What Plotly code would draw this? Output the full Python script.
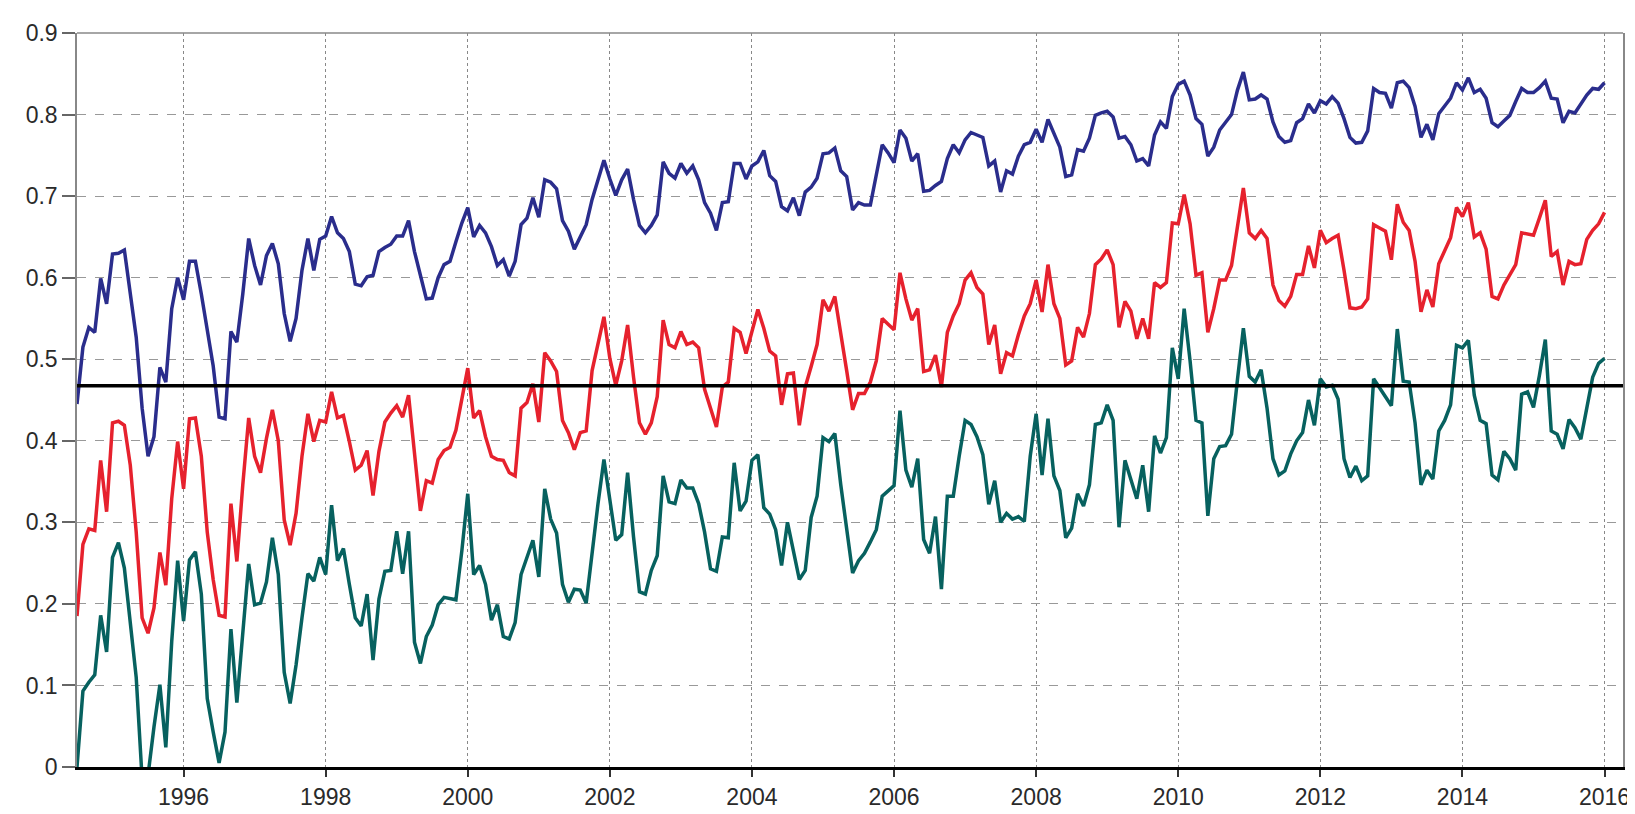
import plotly.graph_objects as go

start_year = 1994.5
months_per_year = 12

blue_series = [
    0.445, 0.515, 0.539, 0.533, 0.599, 0.568, 0.629, 0.630, 0.634, 0.580, 0.527, 0.440, 0.381, 0.405, 0.490, 0.472,
    0.562, 0.600, 0.573, 0.620, 0.620, 0.580, 0.539, 0.492, 0.429, 0.427, 0.534, 0.521, 0.580, 0.648, 0.615, 0.591,
    0.627, 0.642, 0.617, 0.556, 0.522, 0.550, 0.609, 0.648, 0.609, 0.647, 0.651, 0.675, 0.655, 0.648, 0.632, 0.592,
    0.590, 0.601, 0.603, 0.632,
    0.637, 0.641, 0.651, 0.651, 0.670, 0.632, 0.603, 0.574, 0.575, 0.600, 0.616, 0.620, 0.644, 0.667, 0.686, 0.650,
    0.664, 0.655, 0.638, 0.615, 0.622, 0.602, 0.620, 0.665, 0.673, 0.698, 0.674, 0.720, 0.717, 0.709, 0.670, 0.657,
    0.635, 0.650, 0.665, 0.696, 0.720, 0.744, 0.721, 0.701, 0.720, 0.733, 0.696, 0.664, 0.655, 0.664, 0.677, 0.742,
    0.728, 0.722, 0.740, 0.728,
    0.737, 0.720, 0.692, 0.679, 0.658, 0.692, 0.693, 0.740, 0.740, 0.721, 0.737, 0.742, 0.756, 0.725, 0.718, 0.687,
    0.682, 0.698, 0.676, 0.705, 0.711, 0.722, 0.752, 0.753, 0.759, 0.731, 0.724, 0.683, 0.692, 0.689, 0.689, 0.728,
    0.763, 0.753, 0.741, 0.781, 0.771, 0.743, 0.752, 0.706, 0.707, 0.713, 0.718, 0.746, 0.763, 0.753, 0.769, 0.778,
    0.775, 0.772, 0.737, 0.743,
    0.705, 0.731, 0.727, 0.749, 0.763, 0.766, 0.782, 0.766, 0.794, 0.778, 0.760, 0.724, 0.726, 0.757, 0.755, 0.771,
    0.799, 0.802, 0.804, 0.797, 0.771, 0.773, 0.763, 0.743, 0.746, 0.737, 0.775, 0.791, 0.783, 0.822, 0.837, 0.841,
    0.824, 0.795, 0.788, 0.749, 0.760, 0.781, 0.790, 0.800, 0.830, 0.852, 0.818, 0.819, 0.824, 0.819, 0.791, 0.773,
    0.766, 0.768, 0.790,
    0.795, 0.813, 0.802, 0.817, 0.813, 0.822, 0.814, 0.795, 0.772, 0.765, 0.766, 0.780, 0.832, 0.827, 0.826, 0.808,
    0.839, 0.841, 0.833, 0.810, 0.772, 0.788, 0.769, 0.801, 0.810, 0.820, 0.839, 0.830, 0.845, 0.827, 0.831, 0.820,
    0.790, 0.785, 0.792, 0.799, 0.816, 0.832, 0.827, 0.827, 0.833, 0.841, 0.820, 0.819, 0.790, 0.804, 0.802, 0.814,
    0.824, 0.832, 0.831, 0.839,
]

red_series = [
    0.185, 0.273, 0.292, 0.290, 0.376, 0.313, 0.422, 0.424, 0.419, 0.370, 0.288, 0.183, 0.164, 0.195, 0.263, 0.223,
    0.329, 0.399, 0.341, 0.427, 0.428, 0.381, 0.288, 0.230, 0.186, 0.184, 0.323, 0.252, 0.346, 0.428, 0.381, 0.361,
    0.403, 0.438, 0.400, 0.303, 0.272, 0.311, 0.381, 0.433, 0.399, 0.425, 0.423, 0.460, 0.428, 0.431, 0.399, 0.364,
    0.370, 0.388, 0.333, 0.387,
    0.423, 0.434, 0.443, 0.429, 0.456, 0.381, 0.314, 0.351, 0.348, 0.377, 0.388, 0.392, 0.413, 0.451, 0.489, 0.428,
    0.437, 0.405, 0.381, 0.377, 0.376, 0.361, 0.357, 0.440, 0.447, 0.470, 0.423, 0.508, 0.498, 0.485, 0.425, 0.410,
    0.389, 0.410, 0.412, 0.486, 0.517, 0.552, 0.501, 0.468, 0.498, 0.542, 0.478, 0.422, 0.408, 0.422, 0.454, 0.548,
    0.518, 0.514, 0.534, 0.518,
    0.521, 0.514, 0.463, 0.440, 0.417, 0.466, 0.472, 0.538, 0.533, 0.507, 0.536, 0.561, 0.538, 0.510, 0.504, 0.444,
    0.482, 0.483, 0.419, 0.466, 0.491, 0.518, 0.573, 0.559, 0.577, 0.533, 0.486, 0.438, 0.458, 0.458, 0.472, 0.498,
    0.550, 0.543, 0.536, 0.606, 0.574, 0.548, 0.562, 0.485, 0.487, 0.505, 0.466, 0.533, 0.553, 0.568, 0.597, 0.606,
    0.588, 0.580, 0.518, 0.542,
    0.482, 0.508, 0.504, 0.530, 0.553, 0.568, 0.597, 0.558, 0.616, 0.568, 0.550, 0.493, 0.498, 0.539, 0.527, 0.556,
    0.616, 0.623, 0.634, 0.616, 0.539, 0.571, 0.559, 0.525, 0.550, 0.525, 0.594, 0.588, 0.594, 0.667, 0.666, 0.702,
    0.666, 0.603, 0.606, 0.533, 0.562, 0.597, 0.597, 0.615, 0.661, 0.710, 0.655, 0.648, 0.658, 0.648, 0.591, 0.572,
    0.565, 0.577, 0.604,
    0.604, 0.639, 0.612, 0.658, 0.643, 0.648, 0.652, 0.609, 0.563, 0.562, 0.564, 0.574, 0.665, 0.661, 0.657, 0.622,
    0.690, 0.668, 0.658, 0.620, 0.558, 0.585, 0.564, 0.617, 0.632, 0.649, 0.686, 0.675, 0.692, 0.650, 0.655, 0.635,
    0.577, 0.574, 0.591, 0.604, 0.616, 0.655, 0.654, 0.652, 0.673, 0.695, 0.626, 0.632, 0.591, 0.620, 0.616, 0.617,
    0.647, 0.658, 0.666, 0.680,
]

teal_series = [
    0.0, 0.093, 0.104, 0.113, 0.186, 0.141, 0.257, 0.275, 0.244, 0.177, 0.110, -0.015, -0.01, 0.049, 0.101, 0.024,
    0.154, 0.253, 0.179, 0.254, 0.264, 0.212, 0.084, 0.043, 0.005, 0.043, 0.169, 0.079, 0.166, 0.249, 0.199, 0.201,
    0.227, 0.281, 0.236, 0.116, 0.078, 0.125, 0.183, 0.237, 0.228, 0.257, 0.236, 0.321, 0.253, 0.268, 0.224, 0.183,
    0.173, 0.212, 0.131, 0.206,
    0.240, 0.241, 0.289, 0.237, 0.289, 0.153, 0.127, 0.160, 0.174, 0.199, 0.208, 0.206, 0.205, 0.265, 0.335, 0.236,
    0.247, 0.224, 0.180, 0.199, 0.160, 0.157, 0.177, 0.236, 0.258, 0.278, 0.233, 0.341, 0.304, 0.287, 0.224, 0.202,
    0.218, 0.217, 0.201, 0.265, 0.323, 0.377, 0.329, 0.278, 0.285, 0.361, 0.282, 0.215, 0.212, 0.241, 0.259, 0.357,
    0.325, 0.323, 0.352, 0.342,
    0.342, 0.323, 0.288, 0.243, 0.240, 0.282, 0.281, 0.373, 0.314, 0.326, 0.376, 0.383, 0.318, 0.310, 0.291, 0.247,
    0.300, 0.265, 0.230, 0.241, 0.306, 0.332, 0.404, 0.399, 0.409, 0.346, 0.291, 0.238, 0.253, 0.262, 0.276, 0.291,
    0.332, 0.339, 0.345, 0.437, 0.364, 0.343, 0.378, 0.279, 0.262, 0.307, 0.218, 0.332, 0.332, 0.381, 0.425, 0.420,
    0.405, 0.383, 0.322, 0.351,
    0.300, 0.311, 0.304, 0.307, 0.301, 0.381, 0.433, 0.358, 0.427, 0.357, 0.339, 0.281, 0.293, 0.335, 0.320, 0.346,
    0.420, 0.422, 0.444, 0.425, 0.294, 0.376, 0.352, 0.329, 0.370, 0.313, 0.406, 0.385, 0.404, 0.514, 0.476, 0.562,
    0.498, 0.425, 0.422, 0.308, 0.378, 0.393, 0.394, 0.408, 0.475, 0.538, 0.479, 0.472, 0.487, 0.440, 0.378, 0.358,
    0.363, 0.384, 0.400,
    0.410, 0.450, 0.419, 0.476, 0.466, 0.468, 0.451, 0.378, 0.355, 0.369, 0.351, 0.357, 0.476, 0.465, 0.454, 0.443,
    0.537, 0.473, 0.472, 0.422, 0.346, 0.364, 0.353, 0.412, 0.425, 0.444, 0.517, 0.514, 0.523, 0.456, 0.425, 0.421,
    0.358, 0.352, 0.387, 0.378, 0.364, 0.457, 0.460, 0.441, 0.480, 0.524, 0.412, 0.408, 0.390, 0.426, 0.416, 0.402,
    0.440, 0.478, 0.495, 0.501,
]

threshold = 0.4676
x_tick_years = [1996, 1998, 2000, 2002, 2004, 2006, 2008, 2010, 2012, 2014, 2016]
y_tick_values = [0, 0.1, 0.2, 0.3, 0.4, 0.5, 0.6, 0.7, 0.8, 0.9]
y_tick_labels = ["0", "0.1", "0.2", "0.3", "0.4", "0.5", "0.6", "0.7", "0.8", "0.9"]

n = len(blue_series)
time = [start_year + i / months_per_year for i in range(n)]

fig = go.Figure()
for vals, col in [(blue_series, "#2a2d8c"), (red_series, "#e6212d"), (teal_series, "#07615f")]:
    fig.add_trace(go.Scatter(x=time, y=vals, mode="lines",
                             line=dict(color=col, width=3.5), showlegend=False,
                             hoverinfo="skip"))

fig.add_shape(type="line", xref="paper", x0=0, x1=1, yref="y", y0=threshold, y1=threshold,
              line=dict(color="black", width=3.5), layer="above")
# top border
fig.add_shape(type="line", xref="paper", x0=0, x1=1, yref="paper", y0=1, y1=1,
              line=dict(color="#888888", width=1.5), layer="above")

fig.update_layout(
    width=1635, height=814,
    margin=dict(l=69, r=20, t=15, b=35),
    paper_bgcolor="white", plot_bgcolor="white",
    font=dict(family="Liberation Sans, Arial, sans-serif", size=23, color="#2a2a2a"),
)
fig.update_xaxes(
    range=[start_year, 2016.26], tickmode="array", tickvals=x_tick_years,
    ticktext=[str(v) for v in x_tick_years],
    showgrid=True, gridcolor="#888888", gridwidth=1, griddash="dot",
    showline=True, linecolor="black", linewidth=3, mirror=False,
    ticks="outside", ticklen=7, tickwidth=1.5, tickcolor="#333333",
    zeroline=False, tickfont=dict(size=23),
)
fig.update_yaxes(
    range=[0, 0.9], tickmode="array", tickvals=y_tick_values, ticktext=y_tick_labels,
    showgrid=True, gridcolor="#999999", gridwidth=1, griddash="dash",
    showline=True, linecolor="#888888", linewidth=1.5, mirror=True,
    ticks="outside", ticklen=13, tickwidth=1.5, tickcolor="#666666",
    zeroline=False, tickfont=dict(size=23),
)

fig.write_html("out.html")
